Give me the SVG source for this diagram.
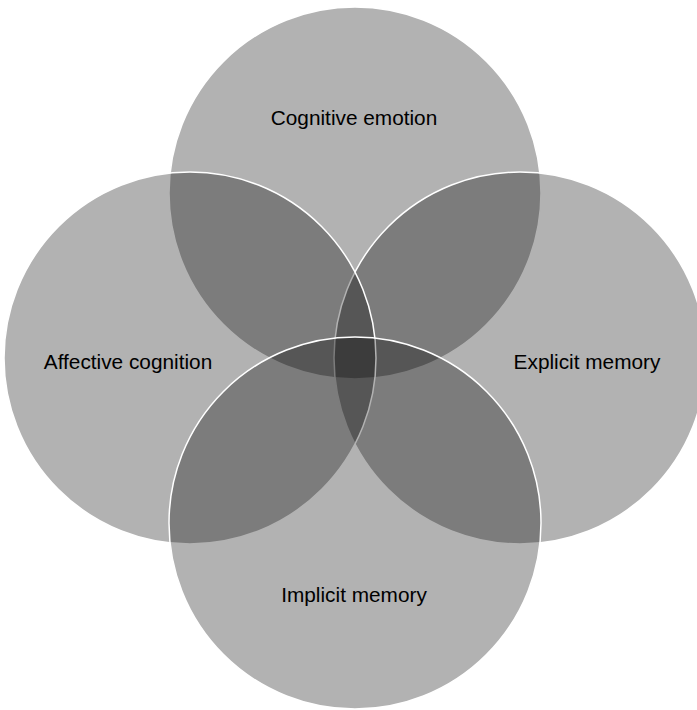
<svg xmlns="http://www.w3.org/2000/svg" width="697" height="710" viewBox="0 0 697 710">
<style>
.c{fill:#000;fill-opacity:0.3;stroke:#fff;stroke-width:1.5}
.t{font-family:"Liberation Sans",Arial,sans-serif;font-size:20.8px;fill:#000;text-anchor:middle}
</style>
<rect width="697" height="710" fill="#fff"/>
<g id="connectors"/>
<g id="cognitive-emotion"><circle class="c" cx="355" cy="193" r="186"/><text class="t" x="354" y="125">Cognitive emotion</text></g>
<g id="explicit-memory"><circle class="c" cx="520" cy="358" r="186"/><text class="t" x="587" y="369">Explicit memory</text></g>
<g id="affective-cognition"><circle class="c" cx="190" cy="358" r="186"/><text class="t" x="128" y="369">Affective cognition</text></g>
<g id="implicit-memory"><circle class="c" cx="355" cy="523" r="186"/><text class="t" x="354" y="602">Implicit memory</text></g>
</svg>
